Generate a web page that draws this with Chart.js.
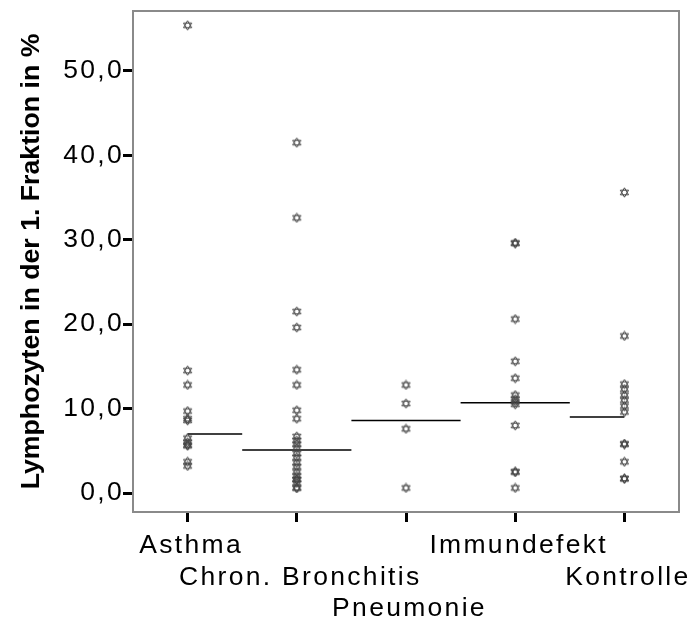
<!DOCTYPE html>
<html>
<head>
<meta charset="utf-8">
<script src="https://cdn.jsdelivr.net/npm/chart.js@4/dist/chart.umd.min.js"></script>
<style>
html,body{margin:0;padding:0;background:#fff;}
#wrap{width:695px;height:619px;position:relative;}
</style>
</head>
<body>
<div id="wrap"><canvas id="c" width="695" height="619"></canvas></div>
<script>
// ---- data ----
const categories = ['Asthma', 'Chron. Bronchitis', 'Pneumonie', 'Immundefekt', 'Kontrolle'];
const asthma = [55.4, 14.5, 12.8, 9.7, 8.8, 8.6, 6.5, 6.0, 5.7, 5.6, 3.7, 3.2];
const chronBronchitis = [41.5, 32.6, 21.5, 19.6, 14.6, 12.8, 9.8, 8.8, 6.7, 6.2, 5.8, 5.3, 4.7, 4.2, 3.6, 3.1, 2.5, 2.0, 1.6, 1.6, 1.2, 0.6, 0.6];
const pneumonie = [12.8, 10.6, 7.6, 0.6];
const immundefekt = [29.6, 29.6, 20.6, 15.6, 13.6, 11.6, 11.1, 10.8, 10.5, 8.0, 2.5, 2.5, 0.6];
const kontrolle = [35.6, 18.6, 12.9, 12.3, 11.6, 11.0, 10.3, 9.6, 5.8, 5.8, 3.7, 1.7, 1.7];
const medians = [7.0, 5.1, 8.6, 10.7, 9.0];
const yTicks = [0, 10, 20, 30, 40, 50];
const yTitle = 'Lymphozyten in der 1. Fraktion in %';

const groups = [asthma, chronBronchitis, pneumonie, immundefekt, kontrolle];

// ---- hexagram marker ----
function makeStar() {
  const s = 11, c = document.createElement('canvas');
  c.width = s; c.height = s;
  const g = c.getContext('2d');
  g.strokeStyle = '#444'; g.lineWidth = 1;
  const cx = s / 2, cy = s / 2, r = 4.7;
  for (let k = 0; k < 2; k++) {
    g.beginPath();
    for (let j = 0; j < 3; j++) {
      const a = -Math.PI / 2 + k * Math.PI + j * 2 * Math.PI / 3;
      const x = cx + r * Math.cos(a), y = cy + r * Math.sin(a);
      if (j === 0) g.moveTo(x, y); else g.lineTo(x, y);
    }
    g.closePath(); g.stroke();
  }
  return c;
}
const star = makeStar();

const n = categories.length;
const datasets = [];
groups.forEach((vals, i) => {
  datasets.push({
    type: 'scatter',
    data: vals.map(v => ({ x: i, y: v })),
    pointStyle: star, pointRadius: 5, pointHoverRadius: 5
  });
});
medians.forEach((m, i) => {
  datasets.push({
    type: 'line',
    data: [{ x: Math.max(i - 0.5, 0), y: m }, { x: Math.min(i + 0.5, n - 1), y: m }],
    borderColor: '#000', borderWidth: 1.5, pointRadius: 0, fill: false
  });
});

const FONT = "'Liberation Sans', Arial, sans-serif";

const framePlugin = {
  id: 'frame',
  afterDatasetsDraw(chart) {
    const a = chart.chartArea, ctx = chart.ctx;
    ctx.save();
    ctx.strokeStyle = '#8a8a8a'; ctx.lineWidth = 2;
    ctx.strokeRect(a.left, a.top, a.right - a.left, a.bottom - a.top);
    ctx.restore();
  }
};

const chart = new Chart(document.getElementById('c'), {
  data: { datasets },
  plugins: [framePlugin],
  options: {
    responsive: false, animation: false,
    layout: { padding: { top: 11, right: 16, left: 0, bottom: 0 } },
    plugins: { legend: { display: false }, tooltip: { enabled: false } },
    scales: {
      x: {
        type: 'linear', min: -0.5, max: n - 0.5,
        afterBuildTicks: s => { s.ticks = categories.map((_, i) => ({ value: i })); },
        afterFit: s => { s.height = 619 - 512; },
        border: { display: false },
        grid: { display: true, drawOnChartArea: false, drawTicks: true, tickLength: 10, tickWidth: 3, tickColor: '#000' },
        ticks: {
          autoSkip: false, maxRotation: 0, minRotation: 0, padding: 8, color: '#000',
          font: { family: FONT, size: 26.5, lineHeight: 1.19 },
          callback: (v) => { const i = Math.round(v); const lines = []; for (let k = 0; k < i % 3; k++) lines.push(''); lines.push(categories[i]); return lines; }
        }
      },
      y: {
        type: 'linear', min: -2.25, max: 57.1,
        afterBuildTicks: s => { s.ticks = yTicks.map(v => ({ value: v })); },
        afterFit: s => { s.width = 133; s.paddingTop = 0; s.paddingBottom = 0; },
        border: { display: false },
        grid: { display: true, drawOnChartArea: false, drawTicks: true, tickLength: 10, tickWidth: 3, tickColor: '#000' },
        ticks: {
          padding: -1, color: '#000',
          font: { family: FONT, size: 26.5 },
          callback: v => v.toFixed(1).replace('.', ',')
        },
        title: {
          display: true, text: yTitle, color: '#000',
          font: { family: FONT, size: 26.7, weight: 'bold', lineHeight: 1.2 },
          padding: { top: 16, bottom: 0 }
        }
      }
    }
  }
});

// SPSS-style letter spacing for the tick labels only
['x', 'y'].forEach(id => {
  const s = chart.scales[id];
  const orig = s.drawLabels.bind(s);
  s.drawLabels = function (ca) {
    const ctx = this.ctx;
    ctx.save();
    ctx.letterSpacing = '2.3px';
    if (id === 'x') ctx.translate(3.5, 0);
    orig(ca);
    ctx.restore();
  };
});
chart.draw();
</script>
</body>
</html>
